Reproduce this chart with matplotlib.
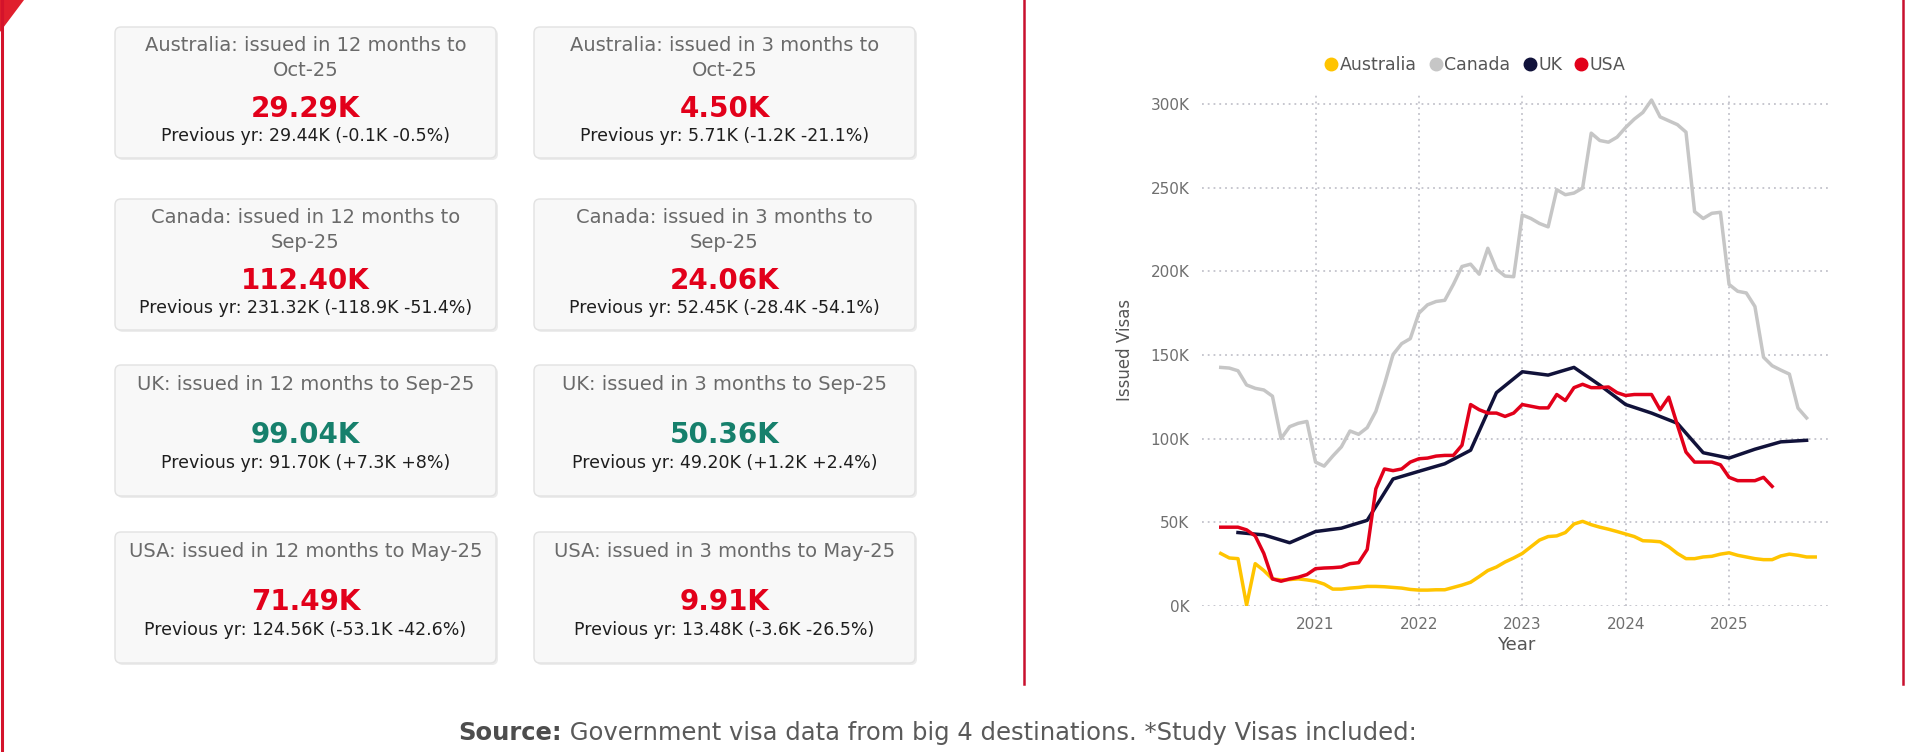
import numpy as np
import matplotlib.pyplot as plt
from matplotlib.patches import FancyBboxPatch, Polygon
from matplotlib.lines import Line2D
from matplotlib.ticker import FuncFormatter

# issued study visas, rolling 12 months, thousands
# monthly series start at Jan 2020
australia = [31.4, 28.7, 28.3, 0.5, 25.3, 21.2, 16.2, 15.6, 15.8, 16.2, 15.6, 14.8,
             13.1, 10.1, 10.1, 10.7, 11.1, 11.7, 11.7, 11.5, 11.1, 10.7, 9.9, 9.5,
             9.5, 9.7, 9.7, 11.1, 12.5, 14.2, 17.6, 21.2, 23.3, 26.3, 28.7, 31.4,
             35.4, 39.4, 41.5, 41.9, 43.9, 49.0, 50.6, 48.6, 47.1, 45.9, 44.5, 43.0,
             41.5, 39.0, 38.8, 38.4, 35.4, 31.4, 28.3, 28.3, 29.3, 29.7, 31.0, 31.8,
             30.3, 29.3, 28.3, 27.7, 27.7, 29.9, 31.0, 30.3, 29.3, 29.29]
canada = [142.6, 142.2, 140.6, 132.1, 130.1, 129.1, 125.4, 100.1, 107.2, 109.2, 110.3, 86.0,
          83.6, 89.6, 95.1, 104.6, 102.6, 106.6, 116.3, 132.5, 150.3, 156.8, 159.8, 175.0,
          180.0, 182.0, 182.7, 192.2, 202.9, 204.3, 198.3, 213.8, 201.3, 197.2, 196.8, 233.7,
          231.6, 228.6, 226.6, 248.8, 245.8, 246.8, 249.8, 282.6, 278.2, 277.2, 280.2, 286.0,
          291.0, 295.0, 302.4, 292.3, 290.0, 287.7, 283.2, 235.7, 231.6, 234.7, 235.3, 192.2,
          188.1, 187.1, 179.0, 148.7, 143.6, 141.0, 138.6, 118.3, 112.4]
usa = [47.1, 47.1, 47.1, 45.5, 41.9, 31.4, 16.2, 14.8, 16.2, 17.2, 18.8, 22.3,
       22.7, 22.9, 23.3, 25.3, 25.9, 33.8, 70.0, 81.9, 80.9, 81.9, 86.0, 88.0,
       88.4, 89.6, 90.0, 90.0, 96.1, 120.4, 117.3, 115.3, 115.3, 113.3, 115.3, 120.4,
       119.4, 118.4, 118.4, 126.4, 122.8, 130.5, 132.5, 130.5, 130.5, 130.9, 127.5, 125.8,
       126.4, 126.4, 126.4, 117.3, 124.8, 108.2, 92.0, 86.0, 86.0, 86.0, 84.4, 76.9,
       74.9, 74.9, 74.9, 76.9, 71.49]
# UK is quarterly, starts at Mar 2020
uk = [43.9, 42.5, 37.8, 44.5, 46.5, 51.2, 75.9, 80.5, 85.0, 93.1, 127.5, 140.0,
      138.0, 142.6, 132.0, 120.4, 115.3, 109.2, 91.6, 88.4, 93.7, 98.1, 99.04]

years = [2021, 2022, 2023, 2024, 2025]
y_ticks = [0, 50, 100, 150, 200, 250, 300]

card_titles = ["Australia: issued in 12 months to\nOct-25", "Australia: issued in 3 months to\nOct-25",
               "Canada: issued in 12 months to\nSep-25", "Canada: issued in 3 months to\nSep-25",
               "UK: issued in 12 months to Sep-25", "UK: issued in 3 months to Sep-25",
               "USA: issued in 12 months to May-25", "USA: issued in 3 months to May-25"]
card_values = ["29.29K", "4.50K", "112.40K", "24.06K", "99.04K", "50.36K", "71.49K", "9.91K"]
card_prev = ["Previous yr: 29.44K (-0.1K -0.5%)", "Previous yr: 5.71K (-1.2K -21.1%)",
             "Previous yr: 231.32K (-118.9K -51.4%)", "Previous yr: 52.45K (-28.4K -54.1%)",
             "Previous yr: 91.70K (+7.3K +8%)", "Previous yr: 49.20K (+1.2K +2.4%)",
             "Previous yr: 124.56K (-53.1K -42.6%)", "Previous yr: 13.48K (-3.6K -26.5%)"]
card_up = [False, False, False, False, True, True, False, False]

RED = '#e2001a'
GREEN = '#16806c'
W, H = 1905, 752

fig = plt.figure(figsize=(W / 100, H / 100), dpi=100)
bg = fig.add_axes([0, 0, 1, 1])
bg.set_xlim(0, W)
bg.set_ylim(H, 0)
bg.axis('off')

# red frame bits
bg.plot([1.5, 1.5], [0, H], color='#d4132b', lw=2.2)
bg.plot([1024, 1024], [0, 684], color='#c8102e', lw=1.8)
bg.plot([1903, 1903], [0, 684], color='#c8102e', lw=1.8)
bg.add_patch(Polygon([[0, 0], [24, 0], [0, 32]], closed=True, color='#e01f2d', lw=0))

# KPI cards
row_tops = [27, 199, 365, 532]
col_lefts = [115, 534]
card_w, card_h = 381, 131
px = 100 / 72

for i in range(8):
    x0 = col_lefts[i % 2]
    y0 = row_tops[i // 2]
    bg.add_patch(FancyBboxPatch((x0 + 2, y0 + 2), card_w, card_h,
                                boxstyle='round,pad=0,rounding_size=6',
                                fc='#ececec', ec='none', zorder=1))
    bg.add_patch(FancyBboxPatch((x0, y0), card_w, card_h,
                                boxstyle='round,pad=0,rounding_size=6',
                                fc='#f8f8f8', ec='#e2e2e2', lw=1, zorder=2))
    cx = x0 + card_w / 2
    lines = card_titles[i].split('\n')
    if len(lines) == 2:
        t_y = [y0 + 17, y0 + 42]
        n_y, p_y = y0 + 80, y0 + 108
    else:
        t_y = [y0 + 18]
        n_y, p_y = y0 + 68, y0 + 97
    for line, ty in zip(lines, t_y):
        bg.text(cx, ty + 0.36 * 14 * px, line, ha='center', va='baseline',
                fontsize=14, color='#6a6a6a', zorder=3)
    bg.text(cx, n_y + 0.36 * 20 * px, card_values[i], ha='center', va='baseline',
            fontsize=20, fontweight='bold', color=GREEN if card_up[i] else RED, zorder=3)
    bg.text(cx, p_y + 0.36 * 12.5 * px, card_prev[i], ha='center', va='baseline',
            fontsize=12.5, color='#1e1e1e', zorder=3)

# source note
src = bg.text(458, 740, 'Source:', ha='left', va='baseline', fontsize=17.5,
              fontweight='bold', color='#4d4d4d')
bg.annotate(' Government visa data from big 4 destinations. *Study Visas included:',
            xy=(1, 0), xycoords=src, ha='left', va='bottom', fontsize=17.5, color='#5a5a5a')

# line chart
ax = fig.add_axes([1202 / W, 1 - 606 / H, 629 / W, (606 - 94) / H])

def month_x(n):
    return 2020 + (np.arange(n) + 1) / 12

def quarter_x(n):
    return 2020 + (np.arange(n) * 3 + 3) / 12

ax.plot(month_x(len(australia)), np.array(australia) * 1000, color='#ffc400', lw=2.5)
ax.plot(month_x(len(canada)), np.array(canada) * 1000, color='#c6c6c6', lw=2.5, clip_on=False)
ax.plot(quarter_x(len(uk)), np.array(uk) * 1000, color='#11123a', lw=2.5)
ax.plot(month_x(len(usa)), np.array(usa) * 1000, color='#e2001a', lw=2.5)

ax.set_xlim(2019.902, 2025.986)
ax.set_ylim(0, 306000)
ax.set_xticks(years)
ax.set_yticks([v * 1000 for v in y_ticks])
ax.yaxis.set_major_formatter(FuncFormatter(lambda v, p: f'{int(v / 1000)}K'))
ax.grid(True, color='#c3c3cb', ls=(0, (1, 2.2)), lw=1.3)
ax.set_axisbelow(True)
for s in ax.spines.values():
    s.set_visible(False)
ax.tick_params(length=0, colors='#6f6f6f', labelsize=11)
ax.tick_params(axis='y', pad=9)
ax.tick_params(axis='x', pad=8)
ax.set_xlabel('Year', fontsize=13, color='#555555', labelpad=3)
ax.set_ylabel('Issued Visas', fontsize=12, color='#555555', labelpad=12)

handles = [Line2D([], [], marker='o', ls='', color=c, markersize=9)
           for c in ['#ffc400', '#c6c6c6', '#11123a', '#e2001a']]
fig.legend(handles, ['Australia', 'Canada', 'UK', 'USA'], loc='center',
           bbox_to_anchor=(1474 / W, 1 - 65 / H), ncol=4, frameon=False,
           handletextpad=0.0, columnspacing=0.6, handlelength=1.0,
           fontsize=12.5, labelcolor='#555555')

fig.savefig('out.png', dpi=100)
